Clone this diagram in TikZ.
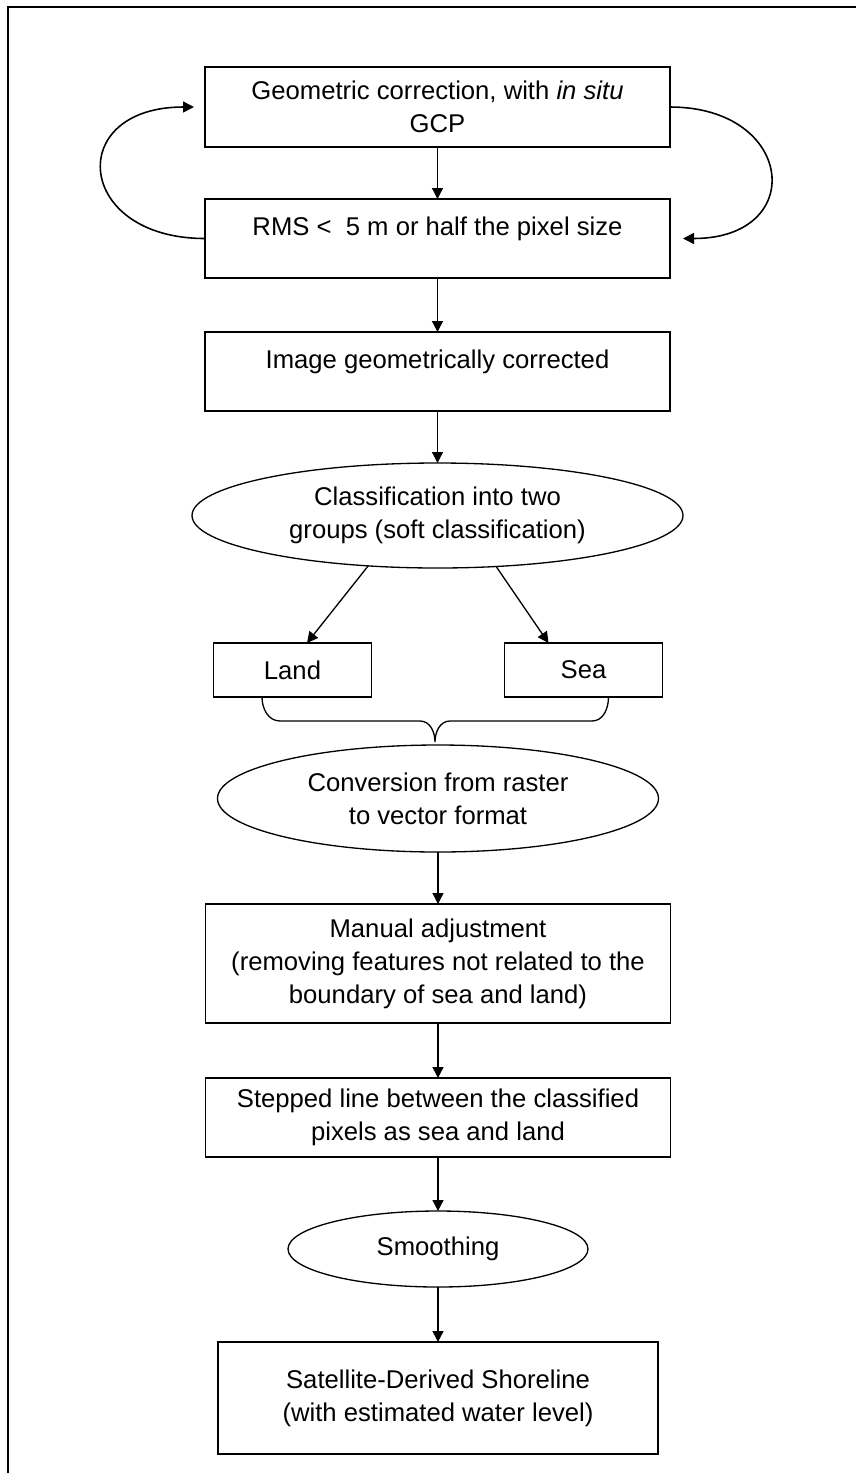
\documentclass[tikz,border=0pt]{standalone}
\usepackage{fontspec}
\setmainfont{Liberation Sans}
\usetikzlibrary{shapes.geometric,arrows.meta,positioning,calc}

\begin{document}
\begin{tikzpicture}[
    box/.style={draw,fill=white,line width=0.75pt,align=center,inner sep=2pt,outer sep=0pt,minimum width=9.3cm,minimum height=1.58cm},
    oval/.style={draw,ellipse,fill=white,line width=0.75pt,align=center,inner sep=0pt,outer sep=0pt},
    small/.style={box,minimum width=3.15cm,minimum height=1.08cm},
    every node/.style={font=\fontsize{14.6}{18.8}\selectfont},
    >={Triangle[length=0.22cm,width=0.22cm]},
]
    \useasboundingbox (0,0) rectangle (17.12,-29.46);
    \draw[line width=1.1pt] (0.16,-29.46) -- (0.16,-0.14) -- (17.12,-0.14);

    \node[box,minimum height=1.6cm] (geo) at (8.75,-2.14) {Geometric correction, with \textit{in situ}\\GCP};
    \node[box,below=1.04cm of geo] (rms) {RMS <~ 5 m or half the pixel size\\[-5pt]\mbox{}};
    \node[box,below=1.08cm of rms] (img) {Image geometrically corrected\\[-5pt]\mbox{}};
    \node[oval,minimum width=9.82cm,minimum height=2.1cm,below=1.04cm of img] (class) {Classification into two\\groups (soft classification)};

    \node[small,below=1.5cm of class,xshift=-2.9cm] (land) {Land};
    \node[small,below=1.5cm of class,xshift=2.92cm] (sea) {Sea};

    \node[oval,minimum width=8.82cm,minimum height=2.14cm,below=0.96cm of $(land.south)!0.5!(sea.south)$] (conv) {Conversion from raster\\to vector format};
    \node[box,minimum height=2.38cm,below=1.04cm of conv] (manual) {Manual adjustment\\(removing features not related to the\\boundary of sea and land)};
    \node[box,below=1.1cm of manual] (stepped) {Stepped line between the classified\\pixels as sea and land};
    \node[oval,minimum width=6cm,minimum height=1.52cm,below=1.08cm of stepped] (smooth) {Smoothing};
    \node[box,minimum width=8.8cm,minimum height=2.24cm,below=1.1cm of smooth] (sds) {Satellite-Derived Shoreline\\(with estimated water level)};

    \draw[->,line width=0.75pt] (geo) -- (rms);
    \draw[->,line width=0.75pt] (rms) -- (img);
    \draw[->,line width=0.75pt] (img) -- (class);
    \draw[->,line width=0.75pt] (class.216) -- ([xshift=0.29cm]land.north);
    \draw[->,line width=0.75pt] (class.319) -- ([xshift=-0.7cm]sea.north);
    \draw[->,line width=0.75pt] (conv) -- (manual);
    \draw[->,line width=0.75pt] (manual) -- (stepped);
    \draw[->,line width=0.75pt] (stepped) -- (smooth);
    \draw[->,line width=0.75pt] (smooth) -- (sds);

    % loop back until the RMS is reached
    \draw[->,line width=0.9pt] (rms.west) .. controls +(-2.6,0) and +(-2.6,0) .. ([xshift=-0.22cm]geo.west);
    \draw[->,line width=0.9pt] (geo.east) .. controls +(2.5,0) and +(2.5,0) .. ([xshift=0.26cm]rms.east);

    % brace joining land and sea
    \coordinate (bl) at ([xshift=-0.61cm]land.south);
    \coordinate (br) at ([xshift=0.5cm]sea.south);
    \draw[line width=0.75pt] (bl) to[out=-90,in=180] ++(0.36,-0.48) -- ++(2.8,0) to[out=0,in=90] ++(0.3,-0.42)
        to[out=90,in=180] ++(0.3,0.42) -- ++(2.84,0) to[out=0,in=-90] (br);
\end{tikzpicture}
\end{document}
